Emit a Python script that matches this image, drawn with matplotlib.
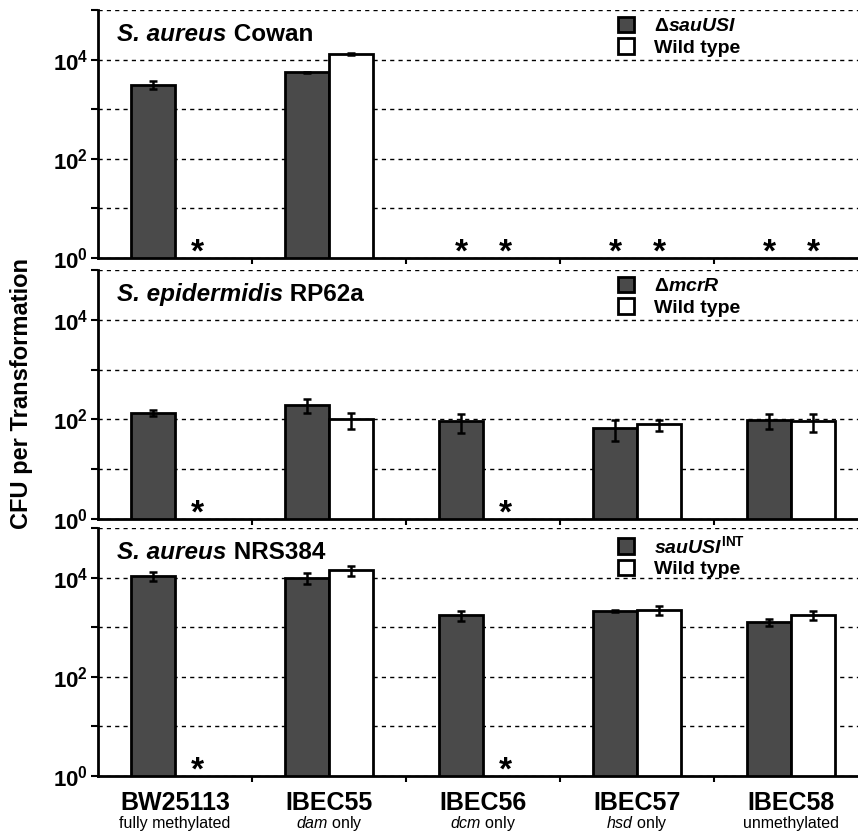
import numpy as np
import matplotlib
matplotlib.use("Agg")
import matplotlib.pyplot as plt
from matplotlib.patches import Patch

plt.rcParams['font.family'] = ['Liberation Sans', 'DejaVu Sans']
plt.rcParams['mathtext.fontset'] = 'custom'
plt.rcParams['mathtext.rm'] = 'Liberation Sans:bold'
plt.rcParams['mathtext.bf'] = 'Liberation Sans:bold'
plt.rcParams['mathtext.it'] = 'Liberation Sans:bold:italic'
plt.rcParams['mathtext.sf'] = 'Liberation Sans:italic'

nan = np.nan

# data
strains = ['BW25113', 'IBEC55', 'IBEC56', 'IBEC57', 'IBEC58']
methylation = ['fully methylated', r'$\mathsf{dam}$ only', r'$\mathsf{dcm}$ only',
               r'$\mathsf{hsd}$ only', 'unmethylated']

species = ['S. aureus', 'S. epidermidis', 'S. aureus']
isolates = ['Cowan', 'RP62a', 'NRS384']
mutant_labels = [r'$\Delta\mathit{sauUSI}$',
                 r'$\Delta\mathit{mcrR}$',
                 r'$\mathit{sauUSI}^{\mathrm{INT}}$']

cowan_mut = [3100, 5500, nan, nan, nan]
cowan_mut_err = [550, 250, nan, nan, nan]
cowan_wt = [nan, 13200, nan, nan, nan]
cowan_wt_err = [nan, 600, nan, nan, nan]

rp62a_mut = [136, 196, 91, 66, 96]
rp62a_mut_err = [18, 60, 37, 30, 32]
rp62a_wt = [nan, 100, nan, 79, 91]
rp62a_wt_err = [nan, 35, nan, 20, 35]

nrs384_mut = [10800, 10000, 1750, 2100, 1270]
nrs384_mut_err = [2300, 2500, 400, 120, 200]
nrs384_wt = [nan, 14000, nan, 2200, 1750]
nrs384_wt_err = [nan, 3000, nan, 450, 350]

panels = [(cowan_mut, cowan_mut_err, cowan_wt, cowan_wt_err),
          (rp62a_mut, rp62a_mut_err, rp62a_wt, rp62a_wt_err),
          (nrs384_mut, nrs384_mut_err, nrs384_wt, nrs384_wt_err)]

dark = '#4a4a4a'
W, H = 858, 831
fig = plt.figure(figsize=(W / 100, H / 100), dpi=100)

# pixel boxes (top, bottom) of each panel
boxes = [(10, 258), (270, 519), (528, 776)]
left, width = 98, 770
x = np.arange(len(strains))
bw = 0.286

for i, ((mut, mut_err, wt, wt_err), (top, bot)) in enumerate(zip(panels, boxes)):
    ax = fig.add_axes([left / W, 1 - bot / H, width / W, (bot - top) / H])
    ax.set_yscale('log')
    ax.set_ylim(1, 1e5)
    ax.set_xlim(-0.5, 4.5)
    ax.set_axisbelow(True)

    mut = np.array(mut, float)
    wt = np.array(wt, float)
    ax.bar(x - bw / 2, np.nan_to_num(mut), bw, color=dark, edgecolor='black',
           linewidth=2, log=True)
    ax.bar(x + bw / 2, np.nan_to_num(wt), bw, color='white', edgecolor='black',
           linewidth=2, log=True)
    ax.errorbar(x - bw / 2, mut, yerr=mut_err, fmt='none', ecolor='black',
                elinewidth=1.8, capsize=3, capthick=1.8)
    ax.errorbar(x + bw / 2, wt, yerr=wt_err, fmt='none', ecolor='black',
                elinewidth=1.8, capsize=3, capthick=1.8)

    # asterisks for no transformants
    for xs, vals in ((x - bw / 2, mut), (x + bw / 2, wt)):
        for xx, v in zip(xs, vals):
            if np.isnan(v):
                ax.text(xx, 0.6, '*', ha='center', va='bottom', fontsize=24,
                        fontweight='bold')

    ax.set_yticks([1, 1e2, 1e4])
    ax.set_yticklabels([r'$10^{0}$', r'$10^{2}$', r'$10^{4}$'], fontsize=16)
    ax.set_yticks([10, 1e3, 1e5], minor=True)
    ax.yaxis.set_minor_formatter(plt.NullFormatter())
    ax.yaxis.grid(True, which='both', linestyle=(0, (3, 3)), color='black',
                  linewidth=1)
    ax.tick_params(axis='y', which='both', direction='out', length=5, width=1.5,
                   pad=2)

    ax.set_xticks(x)
    ax.set_xticks(x[:-1] + 0.5, minor=True)
    ax.tick_params(axis='x', which='major', length=0)
    ax.tick_params(axis='x', which='minor', direction='out', length=4, width=1.5)
    if i == 2:
        ax.set_xticklabels(strains, fontsize=18, fontweight='bold')
        ax.tick_params(axis='x', which='major', pad=11)
        for xx, sub in zip(x, methylation):
            ax.text(xx, -0.19, sub, transform=ax.get_xaxis_transform(),
                    ha='center', va='center', fontsize=11.5)
    else:
        ax.set_xticklabels([])

    for s in ('top', 'right'):
        ax.spines[s].set_visible(False)
    ax.spines['left'].set_linewidth(2)
    ax.spines['bottom'].set_linewidth(2)

    # panel title: italic species + upright isolate
    t1 = ax.text(0.025, 0.9, species[i], transform=ax.transAxes, fontsize=17.5,
                 fontweight='bold', fontstyle='italic', va='center', ha='left')
    ax.annotate(' ' + isolates[i], xy=(1, 0), xycoords=t1, va='bottom',
                ha='left', fontsize=17.5, fontweight='bold')

    handles = [Patch(facecolor=dark, edgecolor='black', linewidth=2),
               Patch(facecolor='white', edgecolor='black', linewidth=2)]
    ax.legend(handles, [mutant_labels[i], 'Wild type'], loc='upper left',
              bbox_to_anchor=(0.655, 1.035), frameon=False,
              handlelength=0.85, handleheight=0.85, handletextpad=1.0,
              labelspacing=0.15, borderpad=0.3, prop={'weight': 'bold', 'size': 14})

fig.text(0.025, 0.527, 'CFU per Transformation', rotation=90, ha='center',
         va='center', fontsize=17, fontweight='bold')

fig.savefig('out.png', dpi=100)
